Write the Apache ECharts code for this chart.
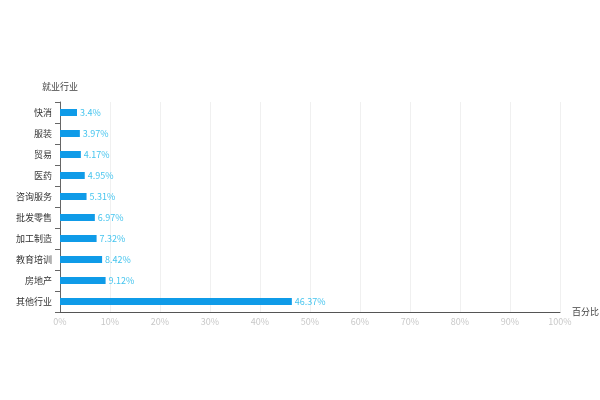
<!DOCTYPE html>
<html><head><meta charset="utf-8">
<script src="https://cdn.jsdelivr.net/npm/echarts@6/dist/echarts.min.js"></script>
<style>html,body{margin:0;padding:0;background:#fff}#c{width:600px;height:400px}</style>
</head><body><div id="c"></div>
<script>
const categories = ['其他行业','房地产','教育培训','加工制造','批发零售','咨询服务','医药','贸易','服装','快消'];
const values = [46.37, 9.12, 8.42, 7.32, 6.97, 5.31, 4.95, 4.17, 3.97, 3.4];
const chart = echarts.init(document.getElementById('c'));
const F = 'Noto Sans CJK SC';
chart.setOption({
  animation: false,
  grid: {left: 60, right: 40, top: 102, bottom: 88, containLabel: false, outerBoundsMode: 'none'},
  xAxis: {
    type: 'value', min: 0, max: 100, interval: 10,
    name: '百分比', nameGap: 12,
    nameTextStyle: {color: '#444', fontSize: 9, fontFamily: F, verticalAlign: 'middle'},
    axisLine: {show: true, lineStyle: {color: '#555', width: 1}},
    axisTick: {show: false},
    axisLabel: {color: '#c8c8c8', fontSize: 9, fontFamily: F, formatter: '{value}%', margin: 5},
    splitLine: {show: true, lineStyle: {color: '#f0f0f0'}}
  },
  yAxis: {
    type: 'category', data: categories,
    name: '就业行业', nameGap: 11,
    nameTextStyle: {color: '#444', fontSize: 9, fontFamily: F, align: 'center'},
    axisLine: {show: true, lineStyle: {color: '#666'}},
    axisTick: {show: true, lineStyle: {color: '#666'}},
    axisLabel: {color: '#333', fontSize: 9, fontFamily: F, margin: 8},
    splitLine: {show: false}
  },
  series: [{
    type: 'bar', data: values, barWidth: 7,
    itemStyle: {color: '#0f9be8'},
    label: {show: true, position: 'right', color: '#45c4ee', fontSize: 9, fontFamily: F, formatter: '{c}%', distance: 3}
  }]
});
</script></body></html>
